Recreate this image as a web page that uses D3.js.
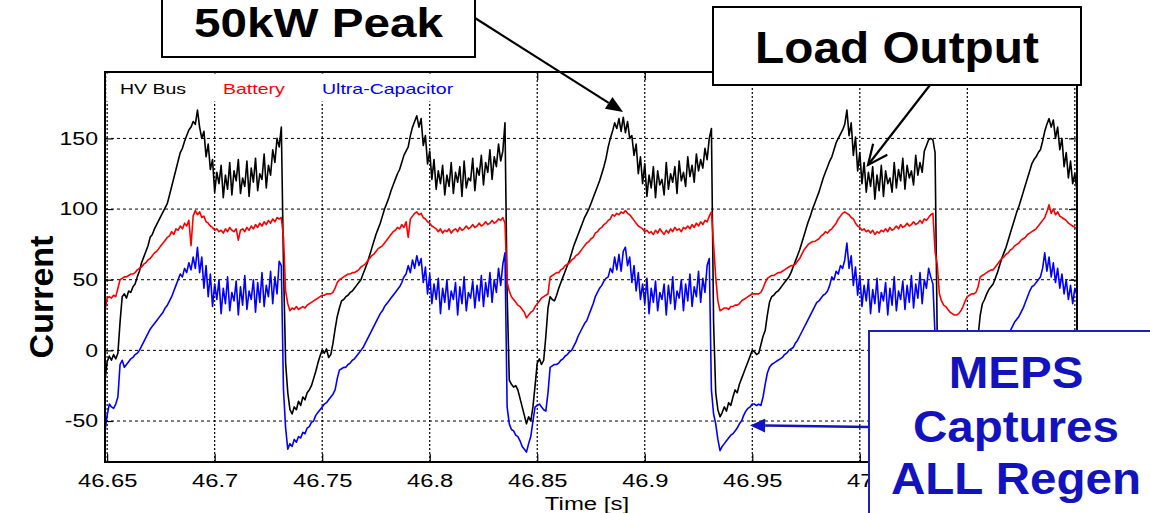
<!DOCTYPE html>
<html>
<head>
<meta charset="utf-8">
<script src="https://cdn.jsdelivr.net/npm/d3@7"></script>
<style>
  body { margin: 0; background: #fff; }
  svg { display: block; font-family: Arial, "Liberation Sans", sans-serif; }
</style>
</head>
<body>
<svg id="chart" width="1150" height="513"></svg>
<script>
'use strict';

// sampled at 1 ms, first sample at tStart
var tStart = 46.649;
var tStep = 0.001;

var hvBus = [
  -21,-8,-4,-7,-3,-6,-2,20,38,40,
  37,42,41,45,47,52,56,62,66,70,
  74,80,82,86,89,92,95,98,101,104,
  110,116,122,128,134,140,143,148,152,156,
  158,162,160,170,158,150,155,137,146,128,
  135,112,126,118,131,108,124,114,133,110,
  127,120,135,111,122,116,134,109,129,119,
  136,113,125,121,139,115,131,124,142,133,
  150,144,158,60,-9,-30,-42,-45,-40,-42,
  -36,-39,-33,-35,-30,-28,-25,-20,-15,-9,
  -4,0,-2,1,-5,-3,5,15,24,30,
  35,36,38,39,41,42,44,46,48,50,
  54,58,62,67,72,77,82,86,90,95,
  100,104,108,113,117,121,125,128,133,138,
  141,144,152,158,162,166,158,164,145,152,
  132,141,121,135,114,127,118,131,110,124,
  116,133,111,126,119,130,109,134,115,122,
  120,136,113,129,124,138,117,133,126,142,
  121,137,130,146,134,141,161,40,-21,-24,
  -26,-25,-28,-34,-40,-46,-52,-47,-50,-40,
  -25,-9,-6,-10,-7,10,30,38,36,35,
  39,44,48,52,56,60,64,69,74,78,
  82,86,90,94,97,100,104,108,112,116,
  120,125,130,136,144,150,155,161,157,164,
  155,165,154,162,150,152,138,146,125,137,
  118,132,109,124,115,130,108,127,117,121,
  110,133,114,125,119,130,111,134,120,126,
  116,137,123,131,119,139,127,135,129,143,
  135,150,157,20,-30,-42,-47,-44,-40,-43,
  -37,-39,-33,-28,-30,-24,-20,-16,-12,-8,
  -4,0,-1,-3,-2,4,10,14,25,34,
  38,39,41,42,44,46,48,50,52,55,
  59,63,67,71,76,81,86,91,95,100,
  104,108,112,117,122,126,130,134,137,142,
  147,150,153,156,160,170,152,161,138,151,
  127,140,118,133,112,126,116,130,107,124,
  113,131,109,127,118,122,112,133,115,128,
  120,136,114,131,122,127,117,138,124,133,
  126,141,145,149,150,149,140,10,-30,-40,
  -44,-42,-40,-36,-32,-28,-24,-20,-14,-8,
  -4,0,2,4,6,8,10,25,33,36,
  40,43,45,47,51,55,60,65,69,73,
  78,83,88,93,98,102,107,112,117,122,
  127,132,135,137,140,142,148,155,160,164,
  158,163,150,158,142,150,130,140,122,134,
  118,125,113
];

var battery = [
  28,37,38,37,39,38,44,50,51,52,
  52,53,54,54,55,57,58,59,61,62,
  64,65,67,69,70,72,74,76,78,80,
  81,84,82,86,85,88,86,90,88,92,
  74,95,99,96,98,94,95,91,90,88,
  87,85,86,84,85,83,86,84,87,85,
  84,86,78,85,86,84,87,85,88,86,
  89,87,90,88,91,89,92,90,93,91,
  94,93,94,80,42,33,28,30,29,31,
  29,30,31,30,32,33,34,35,36,37,
  38,39,39,40,40,40,41,44,48,50,
  51,52,53,54,54,55,55,56,57,59,
  60,61,63,65,67,68,70,72,73,74,
  76,78,80,82,84,85,87,86,89,87,
  91,80,93,95,97,98,96,97,94,93,
  91,90,88,87,86,84,86,83,85,84,
  86,83,85,86,84,87,85,86,88,86,
  87,89,87,88,90,88,89,91,89,90,
  92,90,91,93,92,94,90,48,42,38,
  36,34,32,31,29,27,23,25,27,28,
  31,33,35,37,38,39,40,52,53,54,
  55,55,57,58,60,61,62,64,65,67,
  68,70,72,74,76,77,79,80,83,84,
  86,87,89,90,92,93,96,95,97,96,
  98,97,99,97,96,94,92,90,88,87,
  86,84,85,83,84,82,85,83,86,84,
  82,85,83,86,84,87,85,86,84,87,
  86,88,86,89,87,90,88,91,89,92,
  91,95,98,75,52,35,28,29,30,30,
  29,31,31,32,32,33,35,36,37,38,
  39,40,40,40,40,41,44,48,51,52,
  53,53,54,55,55,56,57,58,59,60,
  60,61,63,65,68,71,73,75,76,77,
  77,78,79,81,82,84,83,85,86,88,
  90,93,95,97,98,97,96,94,93,90,
  88,87,85,86,84,85,83,85,82,84,
  83,85,84,86,84,87,85,86,88,86,
  89,87,88,90,88,89,91,89,90,92,
  90,93,92,94,96,97,70,61,40,35,
  32,31,29,27,26,25,25,26,28,31,
  35,38,39,40,40,41,45,52,53,54,
  55,56,57,57,59,61,63,65,66,68,
  69,71,72,74,75,76,78,79,80,82,
  83,84,85,86,88,90,92,94,98,103,
  97,100,96,98,95,94,93,92,90,89,
  88,87,86
];

var ultraCap = [
  -57,-46,-38,-40,-41,-38,-33,-10,-7,-12,
  -10,-8,-6,-5,-3,-2,0,3,6,9,
  12,15,17,19,21,23,25,27,30,32,
  35,38,42,46,50,54,52,58,55,62,
  57,66,58,73,55,66,44,60,38,54,
  31,47,36,50,26,44,33,52,28,41,
  35,49,25,45,32,53,29,42,36,50,
  27,48,34,55,31,46,38,56,33,52,
  40,63,60,-28,-55,-70,-66,-68,-63,-65,
  -61,-62,-58,-59,-55,-54,-51,-50,-46,-44,
  -42,-40,-38,-37,-35,-33,-31,-28,-20,-14,
  -13,-12,-12,-10,-9,-7,-6,-4,-2,0,
  2,5,8,11,14,17,20,23,26,28,
  31,33,35,37,39,41,43,45,48,52,
  54,60,55,64,58,67,60,65,48,59,
  40,54,33,47,36,51,26,44,34,50,
  29,42,36,48,25,45,33,52,28,41,
  37,49,30,46,35,53,31,48,38,55,
  34,50,41,58,46,61,69,-40,-52,-56,
  -57,-60,-61,-64,-68,-70,-72,-66,-61,-50,
  -40,-39,-38,-40,-42,-43,-30,-12,-11,-10,
  -10,-9,-7,-6,-4,-3,-1,0,3,6,
  10,13,16,19,21,25,29,33,38,41,
  44,46,49,51,52,58,55,66,57,68,
  56,70,73,60,66,48,60,42,55,36,
  47,33,51,26,44,34,49,28,41,36,
  47,25,46,33,52,29,42,37,50,28,
  47,35,54,31,45,38,56,34,51,41,
  60,65,-28,-45,-52,-63,-71,-68,-66,-64,
  -62,-60,-59,-57,-55,-52,-50,-46,-43,-41,
  -40,-38,-38,-39,-38,-39,-33,-24,-16,-12,
  -10,-9,-8,-7,-6,-5,-3,-2,0,1,
  2,5,7,10,13,16,19,22,25,28,
  31,34,35,37,39,40,42,46,52,50,
  56,54,60,58,64,76,58,67,46,59,
  39,53,31,46,35,50,26,43,33,51,
  27,41,35,48,25,44,32,52,28,42,
  36,49,29,46,34,53,30,47,37,55,
  33,50,44,58,52,47,10,-40,-60,-70,
  -68,-65,-62,-60,-58,-56,-54,-52,-50,-47,
  -44,-42,-40,-38,-36,-32,-26,-15,-12,-10,
  -8,-6,-4,-2,0,2,4,6,8,10,
  12,14,17,20,22,24,27,30,34,38,
  42,45,46,48,50,52,58,69,56,66,
  52,62,48,58,44,54,40,50,36,46,
  33,44,40
];

var xTicks = [46.65, 46.7, 46.75, 46.8, 46.85, 46.9, 46.95, 47, 47.05, 47.1];
// the last two labels sit under the "MEPS" callout, so they are left blank
var xTickLabels = ['46.65', '46.7', '46.75', '46.8', '46.85', '46.9', '46.95', '47', '', ''];
var yTicks = [-50, 0, 50, 100, 150];
var seriesNames = ['HV Bus', 'Battery', 'Ultra-Capacitor'];
var seriesColors = ['#000000', '#ff0000', '#0000ff'];

var W = 1150, H = 513;
var margin = {left: 105, right: 73, top: 72, bottom: 51};
var svg = d3.select('#chart');

var time = d3.range(hvBus.length).map(function(i) { return tStart + i * tStep; });

var x = d3.scaleLinear().domain([46.649, 47.101]).range([margin.left, W - margin.right]);
var y = d3.scaleLinear().domain([-79, 197]).range([H - margin.bottom, margin.top]);

function stretchText(sel, k) {
  sel.each(function() {
    var w = this.getComputedTextLength();
    if (!w) return;
    d3.select(this).attr('textLength', w * k).attr('lengthAdjust', 'spacingAndGlyphs');
  });
}

svg.append('rect').attr('width', W).attr('height', H).attr('fill', 'white');

svg.append('clipPath').attr('id', 'plotClip')
  .append('rect')
  .attr('x', x.range()[0]).attr('y', y.range()[1])
  .attr('width', x.range()[1] - x.range()[0])
  .attr('height', y.range()[0] - y.range()[1]);

// grid
var grid = svg.append('g');
grid.selectAll('line.v').data(xTicks).enter().append('line')
  .attr('x1', x).attr('x2', x)
  .attr('y1', y.range()[1]).attr('y2', y.range()[0])
  .attr('stroke', '#000').attr('stroke-width', 1.2).attr('stroke-dasharray', '2,2');
grid.selectAll('line.h').data(yTicks).enter().append('line')
  .attr('y1', y).attr('y2', y)
  .attr('x1', x.range()[0]).attr('x2', x.range()[1])
  .attr('stroke', '#000').attr('stroke-width', 1).attr('stroke-dasharray', '3,3');

// series
var line = d3.line()
  .x(function(d, i) { return x(time[i]); })
  .y(function(d) { return y(d); });

var plot = svg.append('g').attr('clip-path', 'url(#plotClip)');
[hvBus, battery, ultraCap].forEach(function(values, k) {
  plot.append('path')
    .datum(values)
    .attr('d', line)
    .attr('fill', 'none')
    .attr('stroke', seriesColors[k])
    .attr('stroke-width', 1.6)
    .attr('stroke-linejoin', 'round');
});

// axes (ticks inside, matlab style)
var xAxis = svg.append('g').attr('transform', 'translate(0,' + y.range()[0] + ')')
  .call(d3.axisBottom(x).tickValues(xTicks)
    .tickFormat(function(d, i) { return xTickLabels[i]; })
    .tickSizeInner(-8).tickSizeOuter(0).tickPadding(12));
var yAxis = svg.append('g').attr('transform', 'translate(' + x.range()[0] + ',0)')
  .call(d3.axisLeft(y).tickValues(yTicks).tickFormat(String)
    .tickSizeInner(-8).tickSizeOuter(0).tickPadding(7));
svg.append('g').attr('transform', 'translate(' + x.range()[1] + ',0)')
  .call(d3.axisRight(y).tickValues(yTicks).tickFormat('').tickSizeInner(-8).tickSizeOuter(0));
svg.append('g').attr('transform', 'translate(0,' + y.range()[1] + ')')
  .call(d3.axisTop(x).tickValues(xTicks).tickFormat('').tickSizeInner(-8).tickSizeOuter(0));

svg.selectAll('.domain').remove();
svg.selectAll('.tick line').attr('stroke', '#000').attr('stroke-width', 1.2);
svg.selectAll('.tick text')
  .attr('fill', '#000')
  .style('font-family', 'Arial, "Liberation Sans", sans-serif')
  .style('font-size', '18px');
stretchText(xAxis.selectAll('.tick text'), 1.32);
stretchText(yAxis.selectAll('.tick text'), 1.28);

svg.append('rect')
  .attr('x', x.range()[0]).attr('y', y.range()[1])
  .attr('width', x.range()[1] - x.range()[0])
  .attr('height', y.range()[0] - y.range()[1])
  .attr('fill', 'none').attr('stroke', '#000').attr('stroke-width', 2);

// legend
svg.append('rect')
  .attr('x', x.range()[0] + 1.5).attr('y', y.range()[1] + 1.5)
  .attr('width', 354).attr('height', 28)
  .attr('fill', 'white');
var legendX = [120, 223, 322];
seriesNames.forEach(function(name, k) {
  svg.append('text')
    .attr('x', legendX[k]).attr('y', 94)
    .attr('fill', seriesColors[k])
    .style('font-size', '15px')
    .text(name)
    .call(stretchText, 1.3);
});

// axis labels
svg.append('text')
  .attr('x', 587).attr('y', 510)
  .attr('text-anchor', 'middle')
  .style('font-size', '18px')
  .text('Time [s]')
  .call(stretchText, 1.33);

svg.append('text')
  .attr('transform', 'translate(53,297) rotate(-90)')
  .attr('text-anchor', 'middle')
  .style('font-size', '34px')
  .style('font-weight', 'bold')
  .text('Current');

// callouts
function arrowHead(g, tipX, tipY, fromX, fromY, len, half, color, filled) {
  var a = Math.atan2(fromY - tipY, fromX - tipX);
  var bx = tipX + len * Math.cos(a), by = tipY + len * Math.sin(a);
  var p1 = [bx + half * Math.sin(a), by - half * Math.cos(a)];
  var p2 = [bx - half * Math.sin(a), by + half * Math.cos(a)];
  if (filled) {
    g.append('path')
      .attr('d', 'M' + tipX + ',' + tipY + 'L' + p1 + 'L' + p2 + 'Z')
      .attr('fill', color);
  } else {
    g.append('path')
      .attr('d', 'M' + p1 + 'L' + tipX + ',' + tipY + 'L' + p2)
      .attr('fill', 'none').attr('stroke', color).attr('stroke-width', 2.2);
  }
  return [bx, by];
}

var notes = svg.append('g').style('font-weight', 'bold');

// 50kW Peak
var peakTip = [x(46.8899), y(168.7)];
var base1 = arrowHead(notes, peakTip[0], peakTip[1], 475, 18, 17, 7, '#000', true);
notes.append('line')
  .attr('x1', 475).attr('y1', 18).attr('x2', base1[0]).attr('y2', base1[1])
  .attr('stroke', '#000').attr('stroke-width', 2.2);
notes.append('rect')
  .attr('x', 162).attr('y', -6).attr('width', 313).attr('height', 63)
  .attr('fill', 'white').attr('stroke', '#000').attr('stroke-width', 2);
notes.append('text')
  .attr('x', 318.5).attr('y', 37)
  .attr('text-anchor', 'middle')
  .style('font-size', '40px')
  .text('50kW Peak')
  .call(stretchText, 1.19);

// Load Output
var loadTip = [x(47.0038), y(131.2)];
notes.append('line')
  .attr('x1', 930).attr('y1', 85).attr('x2', loadTip[0]).attr('y2', loadTip[1])
  .attr('stroke', '#000').attr('stroke-width', 2.2);
arrowHead(notes, loadTip[0], loadTip[1], 930, 85, 20, 9, '#000', false);
notes.append('rect')
  .attr('x', 713).attr('y', 7).attr('width', 368).attr('height', 78)
  .attr('fill', 'white').attr('stroke', '#000').attr('stroke-width', 2);
notes.append('text')
  .attr('x', 897).attr('y', 63)
  .attr('text-anchor', 'middle')
  .style('font-size', '44px')
  .text('Load Output')
  .call(stretchText, 1.085);

// MEPS Captures ALL Regen
var regenBlue = '#1212bf';
var regenTip = [x(46.949), y(-53.1)];
var base3 = arrowHead(notes, regenTip[0], regenTip[1], 869, 427, 15, 7, regenBlue, true);
notes.append('line')
  .attr('x1', 869).attr('y1', 427).attr('x2', base3[0]).attr('y2', base3[1])
  .attr('stroke', regenBlue).attr('stroke-width', 2.5);
notes.append('rect')
  .attr('x', 869).attr('y', 331).attr('width', 320).attr('height', 220)
  .attr('fill', 'white').attr('stroke', '#1e1ec8').attr('stroke-width', 2);
[['MEPS', 388], ['Captures', 442], ['ALL Regen', 494]].forEach(function(r) {
  notes.append('text')
    .attr('x', 1016).attr('y', r[1])
    .attr('text-anchor', 'middle')
    .attr('fill', regenBlue)
    .style('font-size', '44px')
    .text(r[0])
    .call(stretchText, 1.08);
});
</script>
</body>
</html>
